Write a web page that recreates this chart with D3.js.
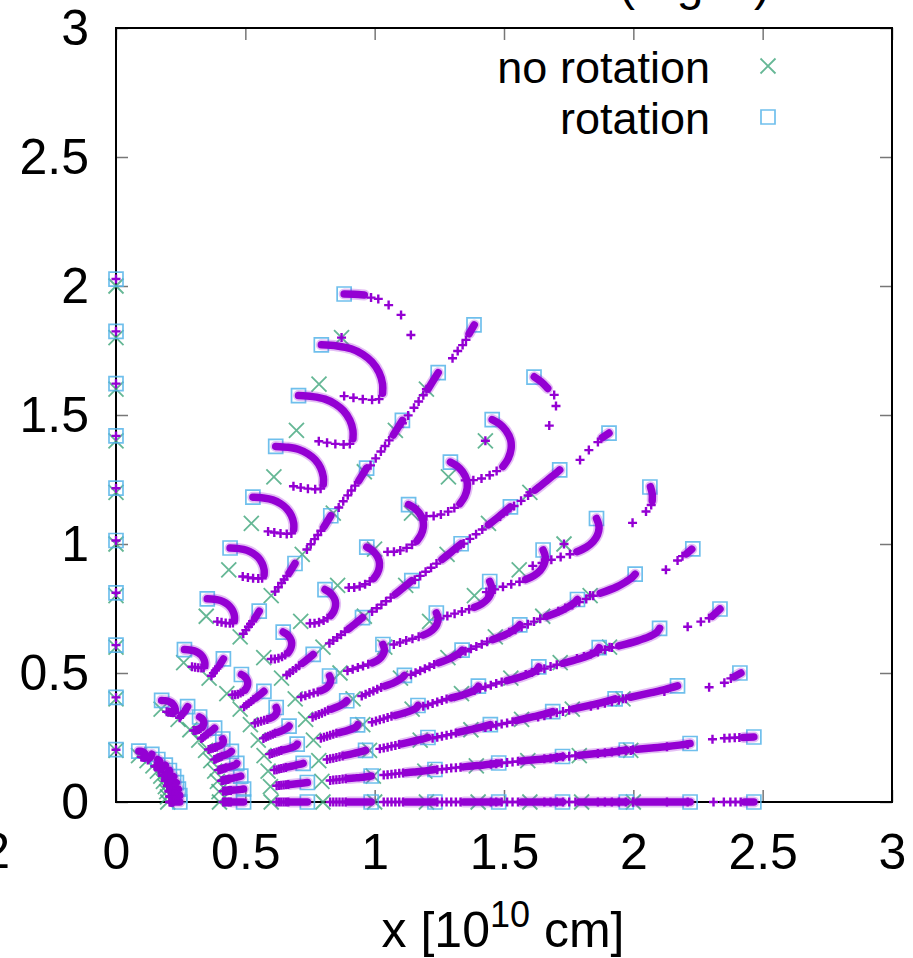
<!DOCTYPE html>
<html><head><meta charset="utf-8">
<script src="https://cdn.jsdelivr.net/npm/d3@7"></script>
<style>
body{margin:0;background:#fff}
svg{display:block}
text{font-family:"Liberation Sans",Arial,Helvetica,sans-serif;fill:#000}
</style></head>
<body><svg id="c" width="913" height="958"></svg>
<script>
// ---------------- data ----------------
const xTicks = [0, 0.5, 1, 1.5, 2, 2.5, 3];
const xTickLabels = ["0", "0.5", "1", "1.5", "2", "2.5", "3"];
const yTicks = [0, 0.5, 1, 1.5, 2, 2.5, 3];
const yTickLabels = ["0", "0.5", "1", "1.5", "2", "2.5", "3"];

// radii of the shells (no-rotation grid)
const shellRadius = [0.2, 0.4, 0.6, 0.8, 1.0, 1.2, 1.4, 1.6, 1.8, 2.0];

// outermost shell (r = 2) of each ray, "no rotation" (x marks)
const noRotOuterX = [2.0, 1.990, 1.960, 1.908, 1.833, 1.732, 1.600, 1.428, 1.200, 0.872, 0.0];
const noRotOuterY = [0.0, 0.200, 0.400, 0.600, 0.800, 1.000, 1.200, 1.400, 1.600, 1.800, 2.0];

// outermost shell of each ray, "rotation" (squares)
const rotOuterX = [2.466, 2.466, 2.412, 2.335, 2.230, 2.064, 1.906, 1.616, 1.384, 0.882, 0.0];
const rotOuterY = [0.000, 0.252, 0.500, 0.748, 0.981, 1.221, 1.430, 1.647, 1.849, 1.969, 2.027];

// purple trails of the inner shells, read in units of the outer shell (scaled by shell radius / 2)
const trailSparse = [
  [[2.07,0],[2.10,0],[2.13,0],[2.16,0],[2.19,0],[2.22,0]],
  [[2.07,0.209],[2.10,0.212],[2.13,0.215],[2.16,0.219],[2.19,0.222],[2.22,0.225]],
  [[2.04,0.412],[2.07,0.418],[2.10,0.425],[2.13,0.432],[2.16,0.438],[2.19,0.445]],
  [[1.98,0.618],[2.01,0.627],[2.04,0.637],[2.07,0.646],[2.10,0.656],[2.13,0.665]],
  [[1.90,0.822],[1.93,0.835],[1.96,0.848],[1.99,0.861],[2.02,0.874],[2.05,0.888]],
  [[1.79,1.017],[1.83,1.03],[1.87,1.043],[1.91,1.055],[1.95,1.067]],
  [[1.65,1.23],[1.68,1.252],[1.71,1.275],[1.74,1.297],[1.77,1.32]],
  [[1.50,1.385],[1.535,1.386],[1.57,1.393],[1.605,1.407],[1.635,1.425]],
  [[1.23,1.631],[1.255,1.665],[1.28,1.698],[1.30,1.725],[1.32,1.752]],
  [[0.98,1.748],[1.02,1.741],[1.06,1.735],[1.10,1.732],[1.13,1.735]],
  [[0,2.027]]
];
const trailDense = [
  [[2.24,0],[2.466,0]],
  [[2.24,0.227],[2.30,0.233],[2.36,0.238],[2.42,0.245],[2.466,0.252]],
  [[2.21,0.451],[2.30,0.471],[2.36,0.485],[2.412,0.50]],
  [[2.16,0.672],[2.24,0.694],[2.29,0.712],[2.32,0.728],[2.335,0.748]],
  [[2.08,0.899],[2.15,0.926],[2.19,0.948],[2.215,0.965],[2.23,0.981]],
  [[1.98,1.078],[2.02,1.097],[2.05,1.122],[2.068,1.15],[2.075,1.18],[2.072,1.20],[2.064,1.221]],
  [[1.80,1.343],[1.85,1.383],[1.88,1.408],[1.906,1.43]],
  [[1.662,1.445],[1.685,1.48],[1.697,1.52],[1.695,1.56],[1.675,1.60],[1.648,1.628],[1.616,1.647]],
  [[1.34,1.778],[1.365,1.818],[1.384,1.849]],
  [[1.145,1.76],[1.145,1.80],[1.13,1.85],[1.10,1.895],[1.06,1.928],[1.01,1.952],[0.95,1.964],[0.882,1.969]],
  []
];

// purple trails of the outermost shell, read directly
const outerSparse = [
  [[2.0,0],[2.13,0],[2.21,0],[2.31,0],[2.35,0],[2.375,0],[2.395,0],[2.415,0]],
  [[1.99,0.2],[2.13,0.214],[2.21,0.223],[2.306,0.243],[2.352,0.247],[2.372,0.248],[2.392,0.249],[2.41,0.25]],
  [[1.96,0.4],[2.12,0.428],[2.293,0.445],[2.352,0.462],[2.377,0.479]],
  [[1.908,0.6],[2.21,0.679],[2.261,0.699],[2.293,0.712]],
  [[1.833,0.8],[2.126,0.9],[2.171,0.936],[2.19,0.953]],
  [[1.732,1.0],[1.997,1.082],[2.049,1.126],[2.069,1.151]],
  [[1.6,1.2],[1.794,1.326],[1.828,1.364],[1.863,1.395]],
  [[1.428,1.4],[1.675,1.459],[1.701,1.535],[1.694,1.578]],
  [[1.2,1.6],[1.301,1.72],[1.321,1.748],[1.340,1.771],[1.353,1.791]],
  [[0.872,1.8],[1.14,1.81],[1.102,1.888],[1.054,1.926],[1.014,1.95],[0.986,1.955]],
  [[0,2.027]]
];
const outerDense = [
  [[2.43,0],[2.466,0]],
  [[2.425,0.25],[2.466,0.252]],
  [[2.39,0.485],[2.416,0.5]],
  [[2.305,0.72],[2.335,0.748]],
  [[2.205,0.962],[2.226,0.98]],
  [[2.073,1.168],[2.073,1.195],[2.066,1.222]],
  [[1.88,1.412],[1.906,1.43]],
  [[1.669,1.603],[1.643,1.629],[1.617,1.648]],
  [[1.365,1.815],[1.385,1.849]],
  [[0.96,1.965],[0.92,1.968],[0.882,1.969]],
  []
];

const legendLabels = ["no rotation", "rotation"];

// ---------------- drawing ----------------
const svg = d3.select("#c");
const x = d3.scaleLinear().domain([0, 3]).range([116, 892]);
const y = d3.scaleLinear().domain([0, 3]).range([802, 28]);

const FONT = 50, LEGFONT = 45;
const GREEN = "#3ea57a", BLUE = "#56b4e9", PURPLE = "#9400d3";

// partial texts cut by the figure edges
svg.append("text").attr("x", 10).attr("y", 868).attr("text-anchor", "end")
  .attr("font-size", FONT).text("2");
const titleParts = [["(", 627], ["g", 690], [")", 762]];
svg.selectAll("text.title").data(titleParts).join("text").attr("class", "title")
  .attr("x", d => d[1]).attr("y", 0).attr("text-anchor", "middle")
  .attr("font-size", 48).text(d => d[0]);

// axes (ticks inward, mirrored)
function styleAxis(g) {
  g.select(".domain").remove();
  g.selectAll(".tick line").attr("stroke", "#777").attr("stroke-width", 1.5);
  g.attr("font-size", FONT).attr("font-family", '"Liberation Sans",Arial,sans-serif');
  g.selectAll(".tick text").attr("fill", "#000");
}
svg.append("g").attr("transform", `translate(0,${y(0)})`)
  .call(d3.axisBottom(x).tickValues(xTicks).tickFormat((d, i) => xTickLabels[i]).tickSize(-12).tickPadding(31))
  .call(styleAxis);
svg.append("g").attr("transform", `translate(0,${y(3)})`)
  .call(d3.axisTop(x).tickValues(xTicks).tickFormat("").tickSize(-12))
  .call(styleAxis);
svg.append("g").attr("transform", `translate(${x(0)},0)`)
  .call(d3.axisLeft(y).tickValues(yTicks).tickFormat((d, i) => yTickLabels[i]).tickSize(-12).tickPadding(27))
  .call(styleAxis);
svg.append("g").attr("transform", `translate(${x(3)},0)`)
  .call(d3.axisRight(y).tickValues(yTicks).tickFormat("").tickSize(-12))
  .call(styleAxis);

svg.append("rect").attr("x", x(0)).attr("y", y(3))
  .attr("width", x(3) - x(0)).attr("height", y(0) - y(3))
  .attr("fill", "none").attr("stroke", "#000").attr("stroke-width", 2);

// axis title
const xt = svg.append("text").attr("x", 503).attr("y", 947).attr("text-anchor", "middle")
  .attr("font-size", FONT);
xt.append("tspan").text("x [10");
xt.append("tspan").attr("font-size", 36).attr("dy", -20).text("10");
xt.append("tspan").attr("dy", 20).text(" cm]");

// marker paths
const pathX = "M-7.5,-7.5L7.5,7.5M-7.5,7.5L7.5,-7.5";
const pathSq = "M-7,-7h14v14h-14z";
const pathPlus = "M-4.5,0h9M0,-4.5v9";

// no rotation grid
const noRot = [];
noRotOuterX.forEach((ox, j) => shellRadius.forEach(r => {
  const f = r / 2.0;
  noRot.push([ox * f, noRotOuterY[j] * f]);
}));
svg.append("g").selectAll("path").data(noRot).join("path")
  .attr("d", pathX).attr("transform", d => `translate(${x(d[0])},${y(d[1])})`)
  .attr("fill", "none").attr("stroke", GREEN).attr("stroke-width", 1.8).attr("stroke-opacity", 0.8);

// rotation grid
const rot = [];
rotOuterX.forEach((ox, j) => shellRadius.forEach(r => {
  const f = r / 2.0;
  rot.push([ox * f, rotOuterY[j] * f]);
}));
svg.append("g").selectAll("path").data(rot).join("path")
  .attr("d", pathSq).attr("transform", d => `translate(${x(d[0])},${y(d[1])})`)
  .attr("fill", "none").attr("stroke", BLUE).attr("stroke-width", 1.7).attr("stroke-opacity", 0.85);

// purple trails
const line = d3.line().x(d => x(d[0])).y(d => y(d[1])).curve(d3.curveCatmullRom.alpha(0.5));
const gP = svg.append("g");
const trails = [];
for (let j = 0; j < trailSparse.length; j++) {
  shellRadius.forEach((r, k) => {
    const f = r / 2.0;
    if (k === shellRadius.length - 1) {
      trails.push({ sparse: outerSparse[j], dense: outerDense[j] });
    } else {
      trails.push({
        sparse: trailSparse[j].map(p => [p[0] * f, p[1] * f]),
        dense: trailDense[j].map(p => [p[0] * f, p[1] * f])
      });
    }
  });
}
trails.forEach(t => {
  if (t.dense.length > 1) {
    gP.append("path").attr("d", line(t.dense)).attr("fill", "none")
      .attr("stroke", PURPLE).attr("stroke-opacity", 0.25).attr("stroke-width", 11)
      .attr("stroke-linecap", "round").attr("stroke-linejoin", "round");
    gP.append("path").attr("d", line(t.dense)).attr("fill", "none")
      .attr("stroke", PURPLE).attr("stroke-width", 7.5)
      .attr("stroke-linecap", "round").attr("stroke-linejoin", "round");
  }
  gP.selectAll(null).data(t.sparse).join("path")
    .attr("d", pathPlus).attr("transform", d => `translate(${x(d[0])},${y(d[1])})`)
    .attr("fill", "none").attr("stroke", PURPLE).attr("stroke-width", 2.4);
});

// legend
const leg = svg.append("g");
const legY = [83, 134];
leg.selectAll("text").data(legendLabels).join("text")
  .attr("x", 710).attr("y", (d, i) => legY[i]).attr("text-anchor", "end")
  .attr("font-size", LEGFONT).text(d => d);
leg.append("path").attr("d", pathX).attr("transform", `translate(768,${legY[0] - 17})`)
  .attr("fill", "none").attr("stroke", GREEN).attr("stroke-width", 1.8).attr("stroke-opacity", 0.8);
leg.append("path").attr("d", pathSq).attr("transform", `translate(768,${legY[1] - 17})`)
  .attr("fill", "none").attr("stroke", BLUE).attr("stroke-width", 1.7).attr("stroke-opacity", 0.85);
</script>
</body></html>
